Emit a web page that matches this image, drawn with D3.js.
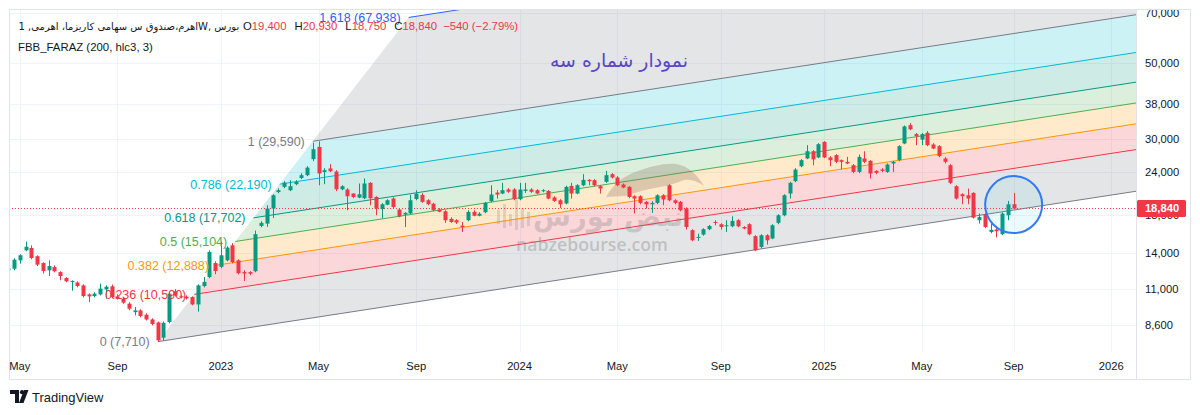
<!DOCTYPE html>
<html><head><meta charset="utf-8">
<script src="https://cdnjs.cloudflare.com/ajax/libs/d3/7.8.5/d3.min.js"></script>
<style>
html,body{margin:0;padding:0;background:#fff;}
svg{display:block;font-family:"Liberation Sans",Arial,sans-serif;}
</style></head><body>
<svg id="c" width="1200" height="415"></svg>
<script>
// ---------------- DATA ----------------
const opens = [12450,12580,13310,14240,14460,13680,13070,12450,12730,12300,11820,11540,11470,11250,10590,10470,10590,10950,11180,10450,10290,9950,9400,9510,9240,8950,8770,7920,8800,10810,10450,10430,10400,9900,11200,11900,13070,12740,13310,14720,13310,12300,12300,12370,16770,17030,18840,21050,21790,21310,22190,23120,23570,26250,28500,24080,24660,24160,21440,21410,20840,20280,20190,22390,20370,18790,19330,20150,18710,18100,18230,20080,20640,19920,19460,18710,18500,17580,17420,16800,17420,18420,17950,18380,19790,20970,20840,21410,21410,20060,21210,21410,21310,21170,21210,20290,19920,19490,21930,20840,22030,22840,22790,21890,22540,23730,23210,22140,21790,20460,20460,19700,19390,19570,20600,22030,19920,19700,18840,16290,15510,15820,16400,17220,16960,16730,16730,17420,16650,16960,15650,14560,15750,15410,17110,18010,20840,22640,25030,26370,27680,26550,29480,26550,26960,26070,25780,25200,24100,26370,25950,24260,24490,24100,25500,26070,29160,32980,31050,29930,31320,28960,28640,26370,25200,21890,20740,20600,20930,17420,18140,16100,16370,15860,18010,19400];
const highs = [12790,13490,13860,15100,14720,13770,13130,13310,12870,12370,11880,11640,11560,11330,10660,10740,11380,11250,11310,10590,10380,10040,9730,9580,9320,9020,8830,8830,10740,10960,10520,10520,10450,11330,11900,14240,13220,15100,14630,14930,13400,12450,12370,16250,17300,19260,20740,21560,22640,22790,22790,23890,25030,29300,29590,24700,25380,24370,22030,21600,20880,22290,23050,22490,20460,19530,20060,20330,18880,18380,20670,21310,20880,20060,19590,18880,18630,17770,17540,17220,18630,18630,18380,19700,22030,21310,22390,21600,21600,22390,22390,21600,21450,21450,21310,20460,20060,21960,22390,22190,23730,22950,22950,22030,24260,23890,23410,22290,21890,20600,20600,19830,19790,20740,20740,22190,20060,19830,19000,16400,15920,16510,16880,17420,17070,17420,17890,17540,16730,17070,15750,15860,15860,16960,18140,20740,22540,24700,26250,28830,27870,29220,29610,26780,27140,26200,26650,25380,27080,27680,26070,24370,24700,25500,25950,28830,32900,33420,31260,31260,31680,29220,28830,26600,25380,22030,20880,21550,21020,18220,18260,17030,16510,18380,19830,20930];
const lows = [12200,12450,13020,14150,13400,12810,12180,11980,12280,11640,11490,10860,11100,10380,10060,10380,10520,10290,10310,10240,9940,9520,9200,9080,8890,8600,7710,7760,8720,10450,10310,10240,9840,9430,11100,11800,12120,12620,13220,13040,12120,11580,12040,12280,16620,16660,17680,20880,21600,21170,22030,22950,23410,25900,22030,22190,24050,21170,21310,18630,20190,20190,20060,19260,18010,17620,19260,18880,17770,16650,18140,19920,19590,19260,18500,18380,17110,17110,16990,16100,17300,17890,17890,18260,19660,20150,20740,20930,19920,19920,20930,20930,20740,21020,20060,19700,18920,19390,20150,20740,21890,22030,21890,20840,22390,23050,21890,21600,20190,18220,19390,18840,18300,19390,19260,19790,19390,18500,16360,15130,15160,15700,16290,16840,16360,16100,16620,16620,16400,15750,14150,14430,14790,15330,16960,17890,20150,22490,24870,26250,25200,26420,26420,25030,25550,24490,25380,23890,23890,25550,23050,23730,24050,23940,24100,25900,29020,31890,28830,28830,28640,28060,26600,25500,22190,20020,19390,19390,17620,17030,16510,15960,15510,15750,17420,18750];
const closes = [12620,13370,13770,14580,13520,12930,12390,12810,12370,11980,11560,11580,11200,10470,10450,10640,11010,11150,10400,10290,10020,9620,9510,9160,8950,8680,7780,8750,10640,10520,10380,10310,9900,11250,11520,14080,12390,13770,14500,13160,12210,12180,12170,15860,17110,18840,20600,21310,22420,21890,22530,23570,24800,28060,23840,24370,24210,21450,21890,20460,20360,20740,22290,20190,18840,19390,19920,19040,17860,18300,19920,20830,19700,19390,18630,18440,17420,17220,17160,16650,18420,17950,18200,19570,20700,20700,21310,21090,20060,21410,21410,21090,20840,21310,20150,19830,19390,21790,20840,22030,22840,22640,22030,21550,23570,23210,22030,21700,20370,20150,19570,19390,19570,20600,20020,19920,19570,18630,16650,15230,15580,16400,16760,17110,16650,16840,17340,16730,16480,15860,14240,15750,15230,16840,18010,20600,22390,24480,26070,27680,26200,29020,26550,26070,25780,25780,25500,24100,26650,25780,23840,23940,24260,25320,25780,28640,32690,32060,30630,31050,28830,28190,26780,25780,22390,20150,20460,20150,17730,17810,16650,16330,16180,18220,19380,18840];

const timeTickIndex  = [2,19,37,54,71,89,106,124,142,159,175,192];
const timeTickLabels = ["May","Sep","2023","May","Sep","2024","May","Sep","2025","May","Sep","2026"];
const priceTicks = [8600,11000,14000,18000,24000,30000,38000,50000,70000];

const fibLevels = [0,0.236,0.382,0.5,0.618,0.786,1,1.618];
const fibLabelPrices = [7710,10590,12888,15104,17702,22190,29590,67938];
const fibColors = ["#787b86","#f23645","#ff9800","#4caf50","#089981","#00bcd4","#787b86","#2962ff"];
const fibAnchorLow  = {index:26,  price:7710};
const fibAnchorHigh = {index:53,  price:29590};
const fibBaseEnd    = {index:175, price:18650};

const lastPrice = 18840;
const circleMark = {index:175, price:19350};

const legendTitle = "اهرم،صندوق س سهامی کاریزما، اهرمی, 1W, بورس";
const legendOHLC = [["O","19,400"],["H","20,930"],["L","18,750"],["C","18,840"]];
const legendChange = "−540 (−2.79%)";
const indicatorLabel = "FBB_FARAZ (200, hlc3, 3)";
const chartTitle = "نمودار شماره سه";

// ---------------- LAYOUT ----------------
const plot = {l:9, r:1136, t:9, b:352};
const UP = "#089981", DOWN = "#f23645", TXT = "#131722";
const svg = d3.select("#c");

const x = d3.scaleLinear().domain([0.12, 196.3]).range([plot.l, plot.r]);
const y = d3.scaleLog().domain([7194, 71905]).range([plot.b, plot.t]);

function fit(sel, w){
  const n = sel.node(); const len = n.getBBox().width;
  const fs = parseFloat(sel.attr("font-size"));
  if (len > 0) sel.attr("font-size", (fs*w/len).toFixed(2));
}

svg.append("rect").attr("width",1200).attr("height",415).attr("fill","#fff");

const defs = svg.append("defs");
defs.append("clipPath").attr("id","plotclip").append("rect")
  .attr("x",plot.l).attr("y",plot.t).attr("width",plot.r-plot.l).attr("height",plot.b-plot.t);
defs.append("clipPath").attr("id","axisclip").append("rect")
  .attr("x",plot.r).attr("y",plot.t + 1).attr("width",60).attr("height",plot.b-plot.t);

// grid
const grid = svg.append("g").attr("clip-path","url(#plotclip)");
grid.selectAll("line.v").data(timeTickIndex).join("line")
  .attr("x1",d=>Math.round(x(d))+0.5).attr("x2",d=>Math.round(x(d))+0.5)
  .attr("y1",plot.t).attr("y2",plot.b).attr("stroke","#f0f3fa");
grid.selectAll("line.h").data(priceTicks).join("line")
  .attr("x1",plot.l).attr("x2",plot.r)
  .attr("y1",d=>Math.round(y(d))+0.5).attr("y2",d=>Math.round(y(d))+0.5).attr("stroke","#f0f3fa");

// fib channel
const lnA = Math.log(fibAnchorLow.price), lnC = Math.log(fibAnchorHigh.price);
const slope = (Math.log(fibBaseEnd.price) - lnA) / (fibBaseEnd.index - fibAnchorLow.index);
const iEnd = x.domain()[1] + 2;
function lvlStart(L){ return {i: fibAnchorLow.index + L*(fibAnchorHigh.index - fibAnchorLow.index), ln: lnA + L*(lnC - lnA)}; }
function pt(i, ln){ return [x(i), y(Math.exp(ln))]; }
function lvlPts(L){ const s = lvlStart(L); return [pt(s.i, s.ln), pt(iEnd, s.ln + slope*(iEnd - s.i))]; }

const fib = svg.append("g").attr("clip-path","url(#plotclip)");
for (let k=0;k<fibLevels.length-1;k++){
  const a = lvlPts(fibLevels[k]), b = lvlPts(fibLevels[k+1]);
  fib.append("path").attr("d", d3.line()([a[0],a[1],b[1],b[0]])+"Z")
    .attr("fill", fibColors[k]).attr("fill-opacity",0.2);
}
fibLevels.forEach((L,k)=>{
  const p = lvlPts(L);
  fib.append("line").attr("x1",p[0][0]).attr("y1",p[0][1]).attr("x2",p[1][0]).attr("y2",p[1][1])
    .attr("stroke",fibColors[k]).attr("stroke-width",1);
});

// watermark
const wm = svg.append("g").attr("clip-path","url(#plotclip)");
wm.append("path")
  .attr("d","M606,197 C612,186 622,176 638,171 C652,166 664,163 676,164 C688,166 697,174 704,186 C697,181 690,179 684,180 C676,183 668,186 660,187 C648,189 636,192 626,196 Z")
  .attr("fill","rgba(140,118,95,0.3)");
[[497,210,14],[503,204,24],[509,214,12],[515,200,30],[521,208,20],[527,212,14]].forEach(d=>{
  wm.append("rect").attr("x",d[0]).attr("y",d[1]).attr("width",3).attr("height",d[2]).attr("fill","rgba(120,120,120,0.22)");
});
const wmFa = wm.append("text").attr("x",608).attr("y",226).attr("text-anchor","middle")
  .attr("font-family","DejaVu Sans, sans-serif").attr("font-weight","bold").attr("font-size",34)
  .attr("fill","rgba(120,120,120,0.28)").text("نبض بورس");
fit(wmFa, 150);
const wmEn = wm.append("text").attr("x",592).attr("y",251).attr("text-anchor","middle")
  .attr("font-family","Open Sans, sans-serif").attr("font-weight","600").attr("font-size",19)
  .attr("fill","rgba(140,140,140,0.42)").text("nabzebourse.com");
fit(wmEn, 152);

// last price dotted line
svg.append("line").attr("x1",plot.l).attr("x2",plot.r)
  .attr("y1",y(lastPrice)).attr("y2",y(lastPrice))
  .attr("stroke",DOWN).attr("stroke-dasharray","1,2").attr("stroke-width",1);

// candles
const bars = opens.map((o,i)=>({i,o,h:highs[i],l:lows[i],c:closes[i]}));
const cg = svg.append("g").attr("clip-path","url(#plotclip)");
cg.selectAll("line.w").data(bars).join("line")
  .attr("x1",d=>Math.round(x(d.i))+0.5).attr("x2",d=>Math.round(x(d.i))+0.5)
  .attr("y1",d=>y(d.h)).attr("y2",d=>y(d.l))
  .attr("stroke",d=>d.c>=d.o?UP:DOWN);
cg.selectAll("rect.b").data(bars).join("rect")
  .attr("x",d=>Math.round(x(d.i))-1.5).attr("width",4)
  .attr("y",d=>y(Math.max(d.o,d.c)))
  .attr("height",d=>Math.max(1, y(Math.min(d.o,d.c)) - y(Math.max(d.o,d.c))))
  .attr("fill",d=>d.c>=d.o?UP:DOWN);

// circle annotation
svg.append("circle").attr("cx",x(circleMark.index)).attr("cy",y(circleMark.price)).attr("r",28.5)
  .attr("fill","rgba(0,188,212,0.08)").attr("stroke","#3179f5").attr("stroke-width",2);

// fib labels
fibLevels.forEach((L,k)=>{
  const s = lvlStart(L), p = pt(s.i, s.ln);
  svg.append("text").attr("x",p[0]-8).attr("y",p[1]).attr("dy","0.35em")
    .attr("text-anchor","end").attr("font-size",12.5).attr("fill",fibColors[k])
    .text(`${L} (${d3.format(",")(fibLabelPrices[k])})`);
});

// title
const tt = svg.append("text").attr("x",619).attr("y",67).attr("text-anchor","middle")
  .attr("font-family","DejaVu Sans, sans-serif").attr("font-size",18).attr("fill","#5a45c7").text(chartTitle);
fit(tt, 138);

// frame / separators
svg.append("rect").attr("x",9.5).attr("y",9.5).attr("width",1181).attr("height",370)
  .attr("fill","none").attr("stroke","#e0e3eb");
svg.append("line").attr("x1",plot.r+0.5).attr("x2",plot.r+0.5).attr("y1",9.5).attr("y2",379.5).attr("stroke","#e0e3eb");

// price axis (the 18,000 label sits mostly under the last-price tag, as in the reference)
const pa = svg.append("g").attr("clip-path","url(#axisclip)");
pa.selectAll("text").data(priceTicks).join("text")
  .attr("x",1145).attr("y",d=>y(d)).attr("dy","0.35em")
  .attr("font-size",11.2).attr("fill",TXT).text(d=>d3.format(",")(d));
const ly = y(lastPrice);
svg.append("rect").attr("x",plot.r+1).attr("y",ly-8.5).attr("width",49).attr("height",17)
  .attr("rx",1.5).attr("fill",DOWN);
svg.append("text").attr("x",1162).attr("y",ly).attr("dy","0.35em").attr("text-anchor","middle")
  .attr("font-size",11.2).attr("font-weight","bold").attr("fill","#fff").text(d3.format(",")(lastPrice));

// time axis
svg.selectAll("text.t").data(timeTickIndex).join("text")
  .attr("x",d=>x(d)).attr("y",370).attr("text-anchor","middle")
  .attr("font-size",11.2).attr("fill",TXT).text((d,i)=>timeTickLabels[i]);

// legend
const lgA = svg.append("text").attr("x",18.5).attr("y",29.5).attr("font-size",12)
  .attr("font-family","DejaVu Sans, sans-serif").attr("fill",TXT).text(legendTitle);
fit(lgA, 221);
const lgB = svg.append("text").attr("x",243).attr("y",29.5).attr("font-size",11).attr("fill",TXT);
legendOHLC.forEach((p,i)=>{
  lgB.append("tspan").attr("dx", i===0?0:8).attr("fill",TXT).text(p[0]);
  lgB.append("tspan").attr("fill",DOWN).text(p[1]);
});
lgB.append("tspan").attr("dx",6).attr("fill",DOWN).text(legendChange);
fit(lgB, 276);
const lg2 = svg.append("text").attr("x",18).attr("y",50.5).attr("font-size",12).attr("fill",TXT).text(indicatorLabel);
fit(lg2, 135);

// TradingView logo
const logo = svg.append("g").attr("fill",TXT);
logo.append("path").attr("d","M10,390 h9 v13 h-4 v-9 h-5 Z");
logo.append("circle").attr("cx",22).attr("cy",392.2).attr("r",2.1);
logo.append("path").attr("d","M24,390 h4.5 l-5,13 h-4.5 Z");
const tv = svg.append("text").attr("x",32).attr("y",402).attr("font-size",13).attr("fill",TXT).text("TradingView");
fit(tv, 72);
</script>
</body></html>
